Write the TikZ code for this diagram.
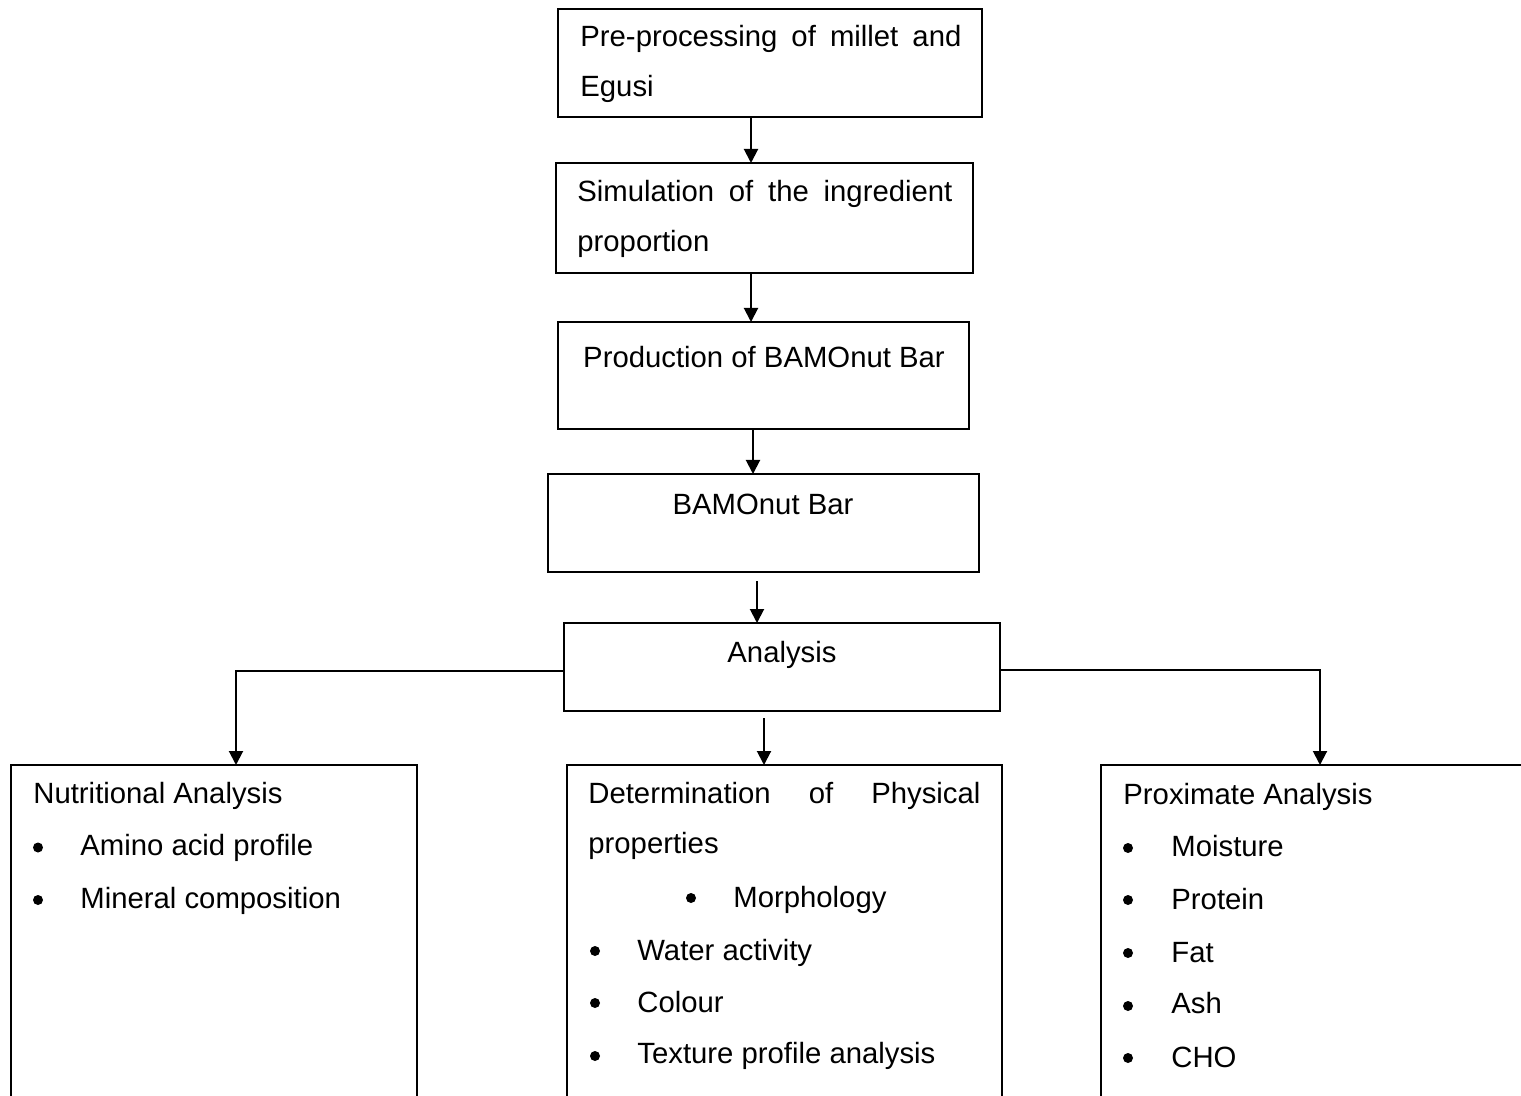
\documentclass[tikz,border=0pt]{standalone}
\usepackage{fontspec}
\setmainfont{Liberation Sans}
\usepackage{tikz}
\usetikzlibrary{arrows.meta,positioning,calc}

\tikzset{
  stepbox/.style={draw, line width=1.2pt, rectangle, inner sep=0pt, outer sep=0pt},
  txt/.style={anchor=base west, inner sep=0pt, font=\fontsize{14.65}{26}\selectfont},
  ctxt/.style={txt, anchor=base},
  dot/.style={circle, fill, inner sep=0pt, minimum size=5pt},
  arr/.style={-{Triangle[width=7pt,length=7pt]}, line width=1pt}
}

\begin{document}
\begin{tikzpicture}[x=0.5pt,y=-0.5pt]
    \useasboundingbox (0,0) rectangle (1521,1096);
    \clip (0,0) rectangle (1521,1096);

    \node[stepbox, minimum width=212pt, minimum height=54pt] (pre) at (770,63) {};
    \node[txt] (preA) at (580,47) {\makebox[190.5pt][s]{Pre-processing of millet and}};
    \node[txt] (preB) at (580,97) {Egusi};

    \node[stepbox, minimum width=208.5pt, minimum height=55pt] (sim) at (764.5,218) {};
    \node[txt] (simA) at (577,202) {\makebox[187.5pt][s]{Simulation of the ingredient}};
    \node[txt] (simB) at (577,252) {proportion};

    \node[stepbox, minimum width=205.5pt, minimum height=53.5pt] (prod) at (763.5,375.5) {};
    \node[ctxt] (prodT) at (764,368) {Production of BAMOnut Bar};

    \node[stepbox, minimum width=215.5pt, minimum height=49pt] (bar) at (763.5,523) {};
    \node[ctxt] (barT) at (763,515) {BAMOnut Bar};

    \node[stepbox, minimum width=218pt, minimum height=44pt] (ana) at (782,667) {};
    \node[ctxt] (anaT) at (782,662) {Analysis};

    \node[stepbox, minimum width=203pt, minimum height=182.5pt] (nutr) at (214,947.5) {};
    \node[txt] (nutrT) at (33,803) {Nutritional Analysis};
    \node[dot] (nutrD1) at (38,847.5) {};
    \node[txt] (nutr1) at (80,855) {Amino acid profile};
    \node[dot] (nutrD2) at (38,900) {};
    \node[txt] (nutr2) at (80,908) {Mineral composition};

    \node[stepbox, minimum width=217.5pt, minimum height=182.5pt] (phys) at (784.5,947.5) {};
    \node[txt] (physA) at (588,803) {\makebox[196pt][s]{Determination of Physical}};
    \node[txt] (physB) at (588,853) {properties};
    \node[dot] (physD1) at (691,898) {};
    \node[txt] (phys1) at (733,907) {Morphology};
    \node[dot] (physD2) at (595,951) {};
    \node[txt] (phys2) at (637,960) {Water activity};
    \node[dot] (physD3) at (595,1003) {};
    \node[txt] (phys3) at (637,1012) {Colour};
    \node[dot] (physD4) at (595,1056) {};
    \node[txt] (phys4) at (637,1063) {Texture profile analysis};

    \node[stepbox, minimum width=219pt, minimum height=182.5pt] (prox) at (1320,947.5) {};
    \node[txt] (proxT) at (1123,804) {Proximate Analysis};
    \node[dot] (proxD1) at (1128,848) {};
    \node[txt] (prox1) at (1171,856) {Moisture};
    \node[dot] (proxD2) at (1128,900) {};
    \node[txt] (prox2) at (1171,909) {Protein};
    \node[dot] (proxD3) at (1128,953) {};
    \node[txt] (prox3) at (1171,962) {Fat};
    \node[dot] (proxD4) at (1128,1006) {};
    \node[txt] (prox4) at (1171,1013) {Ash};
    \node[dot] (proxD5) at (1128,1058) {};
    \node[txt] (prox5) at (1171,1067) {CHO};

    \coordinate (a1) at ([xshift=-9.5pt]pre.south);
    \coordinate (a2) at ([xshift=-6.75pt]sim.south);
    \coordinate (a3) at ([xshift=-5.25pt]prod.south);
    \coordinate (a4) at (757,581);
    \coordinate (a5) at (764,718);
    \coordinate (l0) at ([yshift=-2pt]ana.west);
    \coordinate (r0) at ([yshift=-1.5pt]ana.east);

    \draw[arr] (a1) -- (a1 |- sim.north);
    \draw[arr] (a2) -- (a2 |- prod.north);
    \draw[arr] (a3) -- (a3 |- bar.north);
    \draw[arr] (a4) -- (a4 |- ana.north);
    \draw[arr] (a5) -- (a5 |- phys.north);
    \draw[arr] (l0) -| ([xshift=11pt]nutr.north);
    \draw[arr] (r0) -| (prox.north);
\end{tikzpicture}
\end{document}
